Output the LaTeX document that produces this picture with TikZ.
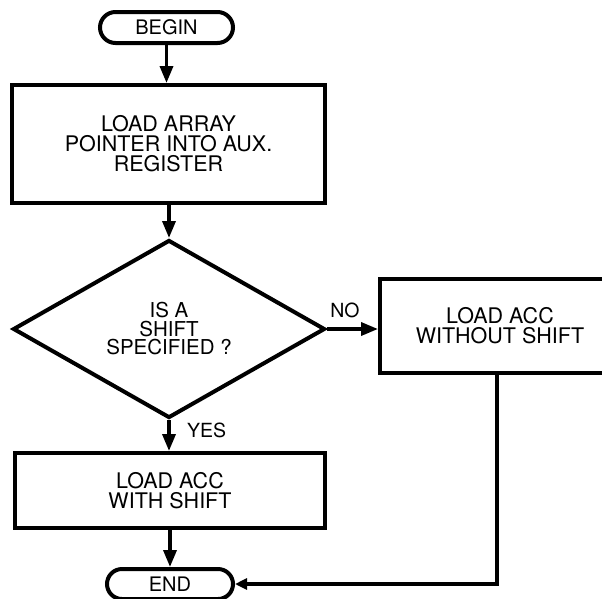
\documentclass[tikz,border=0pt]{standalone}
\usepackage{fontspec}
\setmainfont{TeX Gyre Heros}
\usetikzlibrary{shapes.geometric,shapes.misc,arrows.meta}
\begin{document}
\begin{tikzpicture}[x=1pt,y=-1pt,
  base/.style={draw,line width=4pt,inner sep=0pt,align=center},
  procbox/.style={base,rectangle,font=\fontsize{21.5}{20}\selectfont},
  term/.style={base,rounded rectangle,font=\fontsize{20}{20}\selectfont},
  decide/.style={base,diamond,font=\fontsize{20.5}{18.5}\selectfont},
  lbl/.style={inner sep=0pt,font=\fontsize{19.5}{20}\selectfont},
  arr/.style={line width=3.5pt,-{Triangle[length=17pt,width=13pt]}},
  arrs/.style={line width=3.5pt,-{Triangle[length=12pt,width=11pt]}}]
\useasboundingbox (0,0) rectangle (602,598);
\clip (0,0) rectangle (602,598);
\fill[white] (0,0) rectangle (602,598);

\node[term,minimum width=133pt,minimum height=31pt] (begin) at (166.5,27.5) {BEGIN};
\node[procbox,minimum width=313pt,minimum height=118pt] (box1) at (168.5,144) {LOAD ARRAY\\POINTER INTO AUX.\\REGISTER};
\node[decide,minimum width=312pt,minimum height=178pt] (dia) at (169,329) {IS A\\SHIFT\\SPECIFIED ?};
\node[procbox,minimum width=240pt,minimum height=94pt] (box2) at (500,326) {LOAD ACC\\WITHOUT SHIFT};
\node[procbox,minimum width=310pt,minimum height=75pt] (box3) at (170,490.5) {LOAD ACC\\WITH SHIFT};
\node[term,minimum width=126pt,minimum height=30pt] (end) at (170,584) {END};

\node[lbl] (no) at (345,310) {NO};
\node[lbl,anchor=west] (yes) at (187,430) {YES};

\draw[arr] (begin.south) -- (begin.south |- box1.north);
\draw[arr] (box1.south -| dia.north) -- (dia.north);
\draw[arr] (dia.south) -- (dia.south |- box3.north);
\draw[arr] (box3.south) -- (end.north);
\draw[arr] (dia.east) -- (dia.east -| box2.west);
\draw[arrs] ([xshift=-3pt]box2.south) |- (end.east);
\end{tikzpicture}
\end{document}
